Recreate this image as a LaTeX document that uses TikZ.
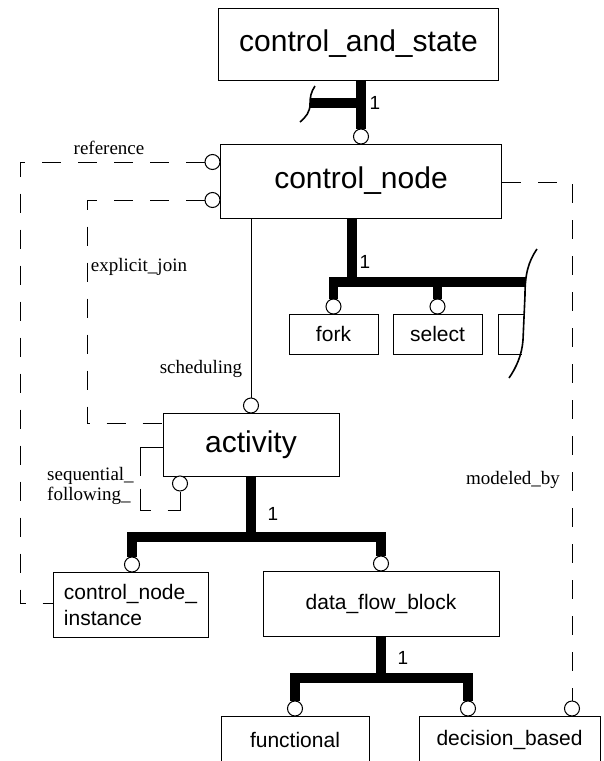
\documentclass[tikz,border=0pt]{standalone}
\usepackage{fontspec}
\setmainfont{Liberation Serif}
\setsansfont{Liberation Sans}
\usetikzlibrary{backgrounds}
\begin{document}
\begin{tikzpicture}[x=1pt,y=-1pt,
 box/.style={draw,line width=1pt,inner sep=0pt,font=\sffamily\fontsize{21}{26}\selectfont},
 bigbox/.style={box,font=\sffamily\fontsize{30}{36}\selectfont},
 ring/.style={draw,circle,fill=white,line width=1pt,minimum size=15pt,inner sep=0pt},
 heavy/.style={line width=9.5pt},
 thin link/.style={line width=1pt},
 dashlink/.style={line width=1pt,dash pattern=on 19pt off 17pt},
 seqdash/.style={line width=1pt,dash pattern=on 51pt off 13pt on 32pt off 17pt},
 curl/.style={line width=1.6pt},
 rel/.style={font=\rmfamily\fontsize{19}{20}\selectfont,inner sep=0pt},
 card/.style={font=\sffamily\fontsize{19}{20}\selectfont,inner sep=0pt},
]
\useasboundingbox (0,0) rectangle (604,761);
\clip (0,0) rectangle (604,761);

% boxes
\node[bigbox,minimum width=280pt,minimum height=72pt] (cs) at (358.5,44) {control\_and\_state};
\node[bigbox,minimum width=281pt,minimum height=74pt] (cn) at (361,181) {control\_node};
\node[box,minimum width=89pt,minimum height=40pt] (fork) at (333.5,334) {fork};
\node[box,minimum width=89pt,minimum height=40pt] (select) at (437.5,334) {select};
\node[bigbox,minimum width=176pt,minimum height=63pt] (act) at (251,444.5) {activity};
\node[box,minimum width=155pt,minimum height=65pt,align=left] (cni) at (130.5,604.5) {control\_node\_\\instance};
\node[box,minimum width=236pt,minimum height=65pt] (dfb) at (381,603.5) {data\_flow\_block};
\node[box,minimum width=148pt,minimum height=48pt] (func) at (295,740) {functional};
\node[box,minimum width=181pt,minimum height=48pt] (dec) at (509.5,740) {decision\_based};

% rings
\node[ring] (c0) at (361,136.5) {};
\node[ring] (cref) at (212.5,162) {};
\node[ring] (cej) at (212.5,200) {};
\node[ring] (cfork) at (333.5,306.5) {};
\node[ring] (csel) at (437.5,306.5) {};
\node[ring] (csch) at (251,405.5) {};
\node[ring] (cseq) at (180,483.5) {};
\node[ring] (ccni) at (132,564.5) {};
\node[ring] (cdfb) at (381,563.5) {};
\node[ring] (cfunc) at (295,708.5) {};
\node[ring] (cdec) at (468,708.5) {};
\node[ring] (cmod) at (572,708.5) {};

% junction / bend points
\coordinate (j0) at (361,103);
\coordinate (curl0) at (310,103);
\coordinate (j1) at (352,282);
\coordinate (bar1end) at (526,282);
\coordinate (j2) at (251,537);
\coordinate (j3) at (381,678);
\coordinate (r1) at (20,162);
\coordinate (r2) at (20,603);
\coordinate (e1) at (87,200);
\coordinate (e2) at (87,423);
\coordinate (s0) at (163,447);
\coordinate (s1) at (140,447);
\coordinate (s2) at (140,510);
\coordinate (s3) at (180,510);
\coordinate (m0) at (501,182);
\coordinate (m1) at (572,182);

\begin{scope}[on background layer]
% control_and_state -> control_node
\draw[heavy] (c0 |- cs.south) -- (c0.north);
\draw[heavy] (j0) -- (curl0);
\draw[curl] (315,86) .. controls (311,92) and (310,97) .. (310,104) .. controls (310,112) and (306,117) .. (300,122);
% control_node -> fork, select, ...
\draw[heavy] (j1 |- cn.south) -- (j1);
\draw[heavy] (cfork.north) -- (cfork |- j1) -- (bar1end);
\draw[heavy] (csel.north) -- (csel |- j1);
\draw[curl] (537,249) .. controls (528,262) and (525,275) .. (525,295) -- (523,340) .. controls (522,355) and (516,368) .. (509,378);
\draw[thin link] (524,314) -- (498,314) -- (498,354) -- (522,354);
% scheduling
\draw[thin link] (csch |- cn.south) -- (csch.north);
% activity -> subtypes
\draw[heavy] (act.south -| j2) -- (j2);
\draw[heavy] (ccni.north) -- (ccni |- j2) -- (cdfb |- j2) -- (cdfb.north);
% data_flow_block -> subtypes
\draw[heavy] (dfb.south) -- (j3);
\draw[heavy] (cfunc.north) -- (cfunc |- j3) -- (cdec |- j3) -- (cdec.north);
% dashed relations
\draw[dashlink] (cref.west) -- (r1) -- (r2) -- (cni.west |- r2);
\draw[dashlink] (cej.west) -- (e1) -- (e2) -- (act.west |- e2);
\draw[seqdash] (act.west |- s0) -- (s1) -- (s2) -- (s3) -- (cseq.south);
\draw[dashlink] (cn.east |- m0) -- (m1) -- (cmod.north);
\end{scope}

% labels
\node[rel] (lref) at (109,148) {reference};
\node[rel] (lej) at (139,267) {explicit\_join};
\node[rel] (lsch) at (201,369) {scheduling};
\node[rel,align=left,anchor=west] (lseq) at (47,486) {sequential\_\\following\_};
\node[rel] (lmod) at (513,480) {modeled\_by};
\node[card] (n1) at (375,103) {1};
\node[card] (n2) at (365,262) {1};
\node[card] (n3) at (273,514) {1};
\node[card] (n4) at (403,658) {1};
\end{tikzpicture}
\end{document}
